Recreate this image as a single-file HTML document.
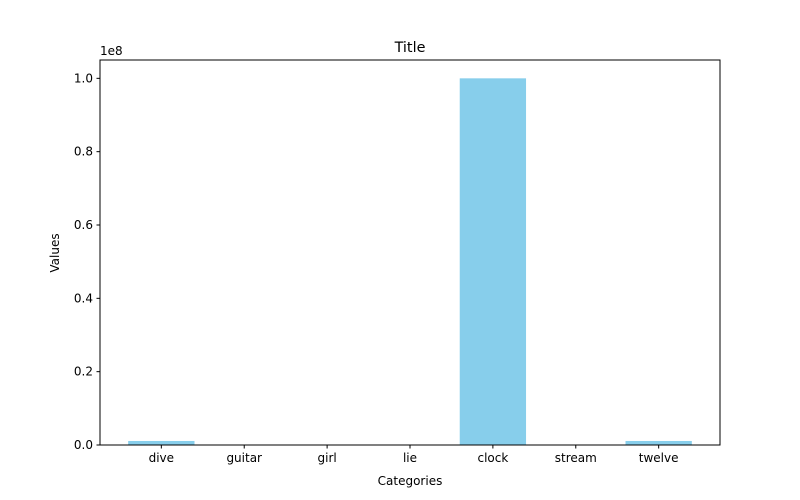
<!DOCTYPE html>
<html><head><meta charset="utf-8"><style>body{margin:0;background:#fff}svg{display:block;font-family:"DejaVu Sans","Liberation Sans",sans-serif}</style></head>
<body>
<svg id="chart" width="800" height="500">
<rect width="800" height="500" fill="#fff"/>
<text x="410" y="52" text-anchor="middle" font-size="14.4">Title</text>
<text x="410" y="485" text-anchor="middle" font-size="12">Categories</text>
<text transform="translate(59,253) rotate(-90)" text-anchor="middle" font-size="12">Values</text>
<text x="100" y="55" font-size="12">1e8</text>
<g id="bars"></g><g id="xt"></g><g id="yt"></g>
<rect x="100" y="60" width="620" height="385" fill="none" stroke="#000" stroke-width="1"/>
</svg>
<script>
const categories=["dive","guitar","girl","lie","clock","stream","twelve"];
const values=[1100000,0,0,0,100000000,0,1100000];
const yTicks=[0,0.2e8,0.4e8,0.6e8,0.8e8,1.0e8];
const yTickLabels=["0.0","0.2","0.4","0.6","0.8","1.0"];
const L=100,R=720,T=60,B=445,yMax=1.05e8;
const ns="http://www.w3.org/2000/svg";
const n=categories.length;
const xMin=-0.4-0.05*(n-0.2),xMax=n-0.6+0.05*(n-0.2);
const unit=(R-L)/(xMax-xMin);
const bw=unit;
const x=i=>L+(i-xMin)*unit;
const y=v=>B-(v/yMax)*(B-T);
function mk(t,a,p){const e=document.createElementNS(ns,t);for(const k in a)e.setAttribute(k,a[k]);p.appendChild(e);return e;}
const bars=document.getElementById('bars'),xt=document.getElementById('xt'),yt=document.getElementById('yt');
categories.forEach((c,i)=>{
 const r=mk('rect',{x:x(i)-bw*0.4,y:y(values[i]),width:bw*0.8,height:B-y(values[i]),fill:'#87ceeb'},bars);
 
 
 mk('line',{x1:x(i),x2:x(i),y1:B,y2:B+3.5,stroke:'#000'},xt);
 const t=mk('text',{x:x(i),y:B+17,'text-anchor':'middle','font-size':12},xt);t.textContent=c;
 
 
});
yTicks.forEach((v,i)=>{
 mk('line',{x1:L-3.5,x2:L,y1:y(v),y2:y(v),stroke:'#000'},yt);
 const t=mk('text',{x:L-7,y:y(v)+4,'text-anchor':'end','font-size':12},yt);t.textContent=yTickLabels[i];
 
 
});
</script>
</body></html>
